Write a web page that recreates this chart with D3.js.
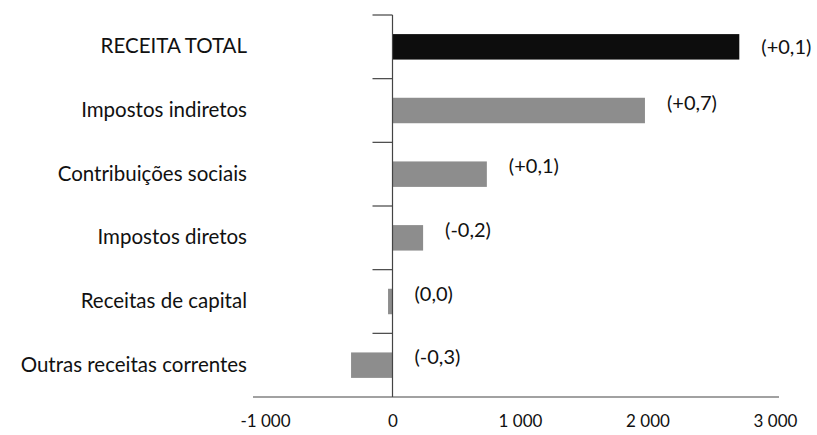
<!DOCTYPE html>
<html>
<head>
<meta charset="utf-8">
<script src="https://cdn.jsdelivr.net/npm/d3@7"></script>
<style>
  html, body { margin: 0; padding: 0; background: #fff; }
  svg { display: block; }
  text { font-family: Lato, "Open Sans", sans-serif; fill: #111; }
</style>
</head>
<body>
<svg id="chart" width="817" height="435"></svg>
<script>
// Revenue change by component (millions), with growth contribution labels
const categories = [
  "RECEITA TOTAL",
  "Impostos indiretos",
  "Contribuições sociais",
  "Impostos diretos",
  "Receitas de capital",
  "Outras receitas correntes"
];
const values = [2720, 1980, 740, 240, -35, -325];
const valueLabels = ["(+0,1)", "(+0,7)", "(+0,1)", "(-0,2)", "(0,0)", "(-0,3)"];
const xTicks = [-1000, 0, 1000, 2000, 3000];

const svg = d3.select("#chart");
const W = 817, H = 435;
const margin = { top: 15, right: 42, bottom: 38, left: 265 };

const x = d3.scaleLinear()
  .domain([-1000, 3000])
  .range([margin.left, W - margin.right]);

const y = d3.scaleBand()
  .domain(categories)
  .range([margin.top, H - margin.bottom])
  .paddingInner(0.6)
  .paddingOuter(0.3);

// full bands (no padding) give the category tick positions
const yb = d3.scaleBand().domain(categories).range([margin.top, H - margin.bottom]);

const locale = d3.formatLocale({ decimal: ",", thousands: " ", grouping: [3], currency: ["", ""], minus: "-" });
const fmt = locale.format(",d");

// bars
svg.append("g").selectAll("rect")
  .data(values)
  .join("rect")
  .attr("x", d => x(Math.min(0, d)))
  .attr("width", d => Math.abs(x(d) - x(0)))
  .attr("y", (d, i) => y(categories[i]))
  .attr("height", y.bandwidth())
  .attr("fill", (d, i) => i === 0 ? "#0d0d0d" : "#8d8d8d");

// horizontal axis (labels only, plus baseline)
const xAxis = svg.append("g")
  .attr("transform", `translate(0,${H - margin.bottom})`)
  .call(d3.axisBottom(x).tickValues(xTicks).tickFormat(fmt).tickSize(0).tickPadding(18));
xAxis.select(".domain").remove();
xAxis.selectAll("text").style("font-size", "17px").style("font-family", "Lato, sans-serif");
svg.append("line")
  .attr("x1", x(-1000) - 12).attr("x2", x(3000) + 4)
  .attr("y1", H - margin.bottom).attr("y2", H - margin.bottom)
  .attr("stroke", "#444").attr("stroke-width", 1.2);

// vertical axis at zero with category boundary ticks
const x0 = x(0);
svg.append("line")
  .attr("x1", x0).attr("x2", x0)
  .attr("y1", margin.top).attr("y2", H - margin.bottom)
  .attr("stroke", "#444").attr("stroke-width", 1.2);
const bounds = categories.map(c => yb(c)).concat([yb.range()[1]]);
svg.append("g").selectAll("line")
  .data(bounds.slice(0, -1))
  .join("line")
  .attr("x1", x0 - 20).attr("x2", x0)
  .attr("y1", d => d).attr("y2", d => d)
  .attr("stroke", "#444").attr("stroke-width", 1.2);

// category labels
const yAxis = svg.append("g")
  .attr("transform", `translate(${x0},0)`)
  .call(d3.axisLeft(yb).tickSize(0).tickPadding(x0 - 247));
yAxis.select(".domain").remove();
yAxis.selectAll("text").style("font-size", "20.5px").style("font-family", "Lato, sans-serif");

// value labels beside the bar ends
svg.append("g").selectAll("text")
  .data(values)
  .join("text")
  .attr("x", d => x(Math.max(0, d)) + 22)
  .attr("y", (d, i) => yb(categories[i]) + yb.bandwidth() / 2 + (i === 0 ? 0 : -8))
  .attr("dy", "0.35em")
  .style("font-size", "20px")
  .text((d, i) => valueLabels[i]);
</script>
</body>
</html>
